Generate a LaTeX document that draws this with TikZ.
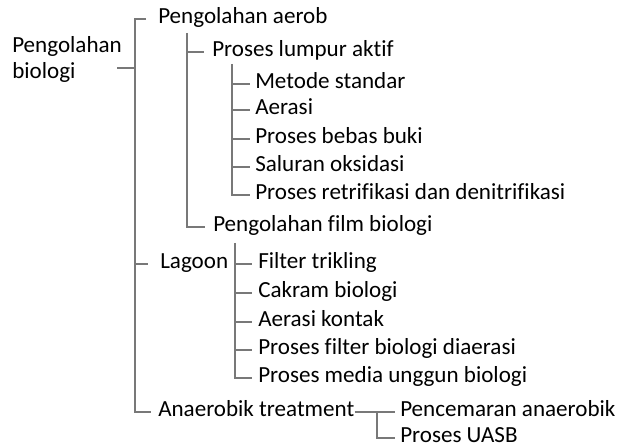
\documentclass[tikz,border=0pt]{standalone}
\usepackage{fontspec}
\setmainfont[Ligatures=CommonOff]{Carlito}
\usepackage{tikz}

\begin{document}
\begin{tikzpicture}[x=0.75pt,y=0.75pt,yscale=-1,xscale=1,
    font=\fontsize{17.3}{19.5}\selectfont,
    item/.style={anchor=west,inner sep=0,text height=0.66em,text depth=0pt},
    branch/.style={color={rgb, 255:red, 120; green, 120; blue, 120 },line width=0.8pt}]
    \useasboundingbox (0,0) rectangle (619,448);
    
    \node [anchor=north west,inner sep=0,align=left] (root) at (12,36) {Pengolahan\\biologi};
    
    \node [item] (aerob) at (158,19) {Pengolahan aerob};
    \node [item] (lumpur) at (212,52) {Proses lumpur aktif};
    \node [item] (metode) at (255,84) {Metode standar};
    \node [item] (aerasi) at (255,110) {Aerasi};
    \node [item] (bebas) at (255,139) {Proses bebas buki};
    \node [item] (saluran) at (255,167) {Saluran oksidasi};
    \node [item] (retri) at (255,195) {Proses retrifikasi dan denitrifikasi};
    \node [item] (film) at (213,227) {Pengolahan film biologi};
    \node [item] (lagoon) at (160,264) {Lagoon};
    \node [item] (trikling) at (258,264) {Filter trikling};
    \node [item] (cakram) at (258,293) {Cakram biologi};
    \node [item] (kontak) at (258,322) {Aerasi kontak};
    \node [item] (diaerasi) at (258,350) {Proses filter biologi diaerasi};
    \node [item] (unggun) at (258,378) {Proses media unggun biologi};
    \node [item] (anaer) at (158,412) {Anaerobik treatment};
    \node [item] (pencemaran) at (400,412) {Pencemaran anaerobik};
    \node [item] (uasb) at (400,438) {Proses UASB};
    
    % bracket lines
    \coordinate (stub) at (117,68);
    \coordinate (b1) at (135,0);
    \coordinate (b2) at (187,33);
    \coordinate (b3) at (232,64);
    \coordinate (b4) at (235,243);
    \coordinate (b5) at (377,0);
    
    \draw [branch] (stub) -- (b1 |- stub);
    \draw [branch] ([xshift=-9pt]aerob.west) -| (b1 |- anaer.west) -- ([xshift=-5pt]anaer.west);
    \draw [branch] (b1 |- lagoon.west) -- ([xshift=-9pt]lagoon.west);
    
    \draw [branch] (b2) |- ([xshift=-6pt]film.west);
    \draw [branch] (b2 |- lumpur.west) -- ([xshift=-6pt]lumpur.west);
    
    \draw [branch] (b3) |- ([xshift=-4pt]retri.west);
    \foreach \n in {metode,aerasi,bebas,saluran}
        \draw [branch] (b3 |- \n.west) -- ([xshift=-4pt]\n.west);
    
    \draw [branch] (b4) |- ([xshift=-4.5pt]unggun.west);
    \foreach \n in {trikling,cakram,kontak,diaerasi}
        \draw [branch] (b4 |- \n.west) -- ([xshift=-4.5pt]\n.west);
    
    \draw [branch] (anaer.east) -- ([xshift=-4pt]pencemaran.west);
    \draw [branch] (b5 |- anaer.east) |- ([xshift=-4pt]uasb.west);
    
\end{tikzpicture}
\end{document}
